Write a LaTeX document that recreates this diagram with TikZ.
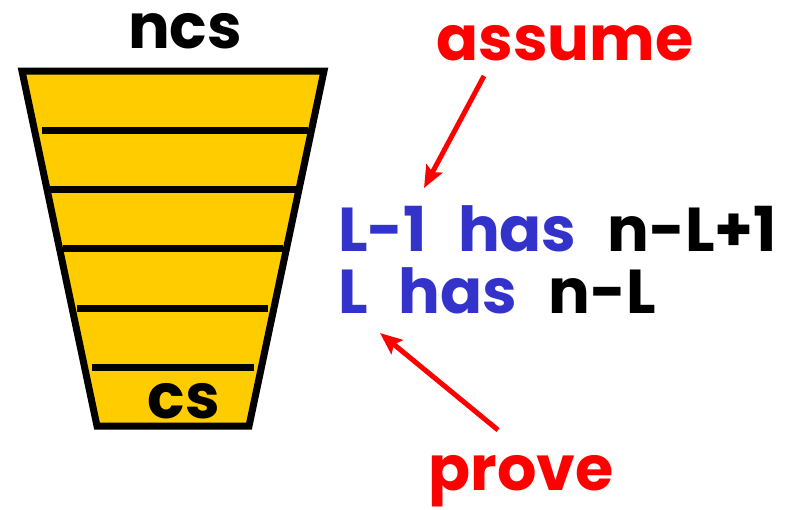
\documentclass[tikz,border=0pt]{standalone}
\usepackage{fontspec}
\setmainfont{Poppins}
\usetikzlibrary{arrows.meta}
\definecolor{cupgold}{HTML}{FFCC00}
\definecolor{hasblue}{HTML}{3333CC}
\definecolor{notered}{HTML}{FF0000}
\newcommand\wordgap{\spaceskip=31pt\relax}
\tikzset{
  bigtext/.style={inner sep=0pt,font=\fontsize{62}{62}\selectfont\bfseries},
  statement/.style={bigtext,anchor=base west},
  level/.style={line width=7pt},
  pointer/.style={draw=notered,line width=5pt,-{Stealth[length=22pt,width=18pt,inset=4pt]}},
}

\begin{document}
\begin{tikzpicture}[x=1pt,y=-1pt]
\useasboundingbox (0,0) rectangle (794,509);
% cup
\draw[fill=cupgold,line width=7pt] (22,71) -- (324,71) -- (249,426) -- (97,426) -- cycle;
\draw[level] (42,130) -- (308,130);
\draw[level] (49,189) -- (297,189);
\draw[level] (63,248) -- (283,248);
\draw[level] (77,308) -- (268,308);
\draw[level] (92,367) -- (254,367);
\node[bigtext,anchor=base] (ncs) at (185,48) {ncs};
\node[bigtext,anchor=base] (cs) at (184,418) {cs};
% statements
\node[statement] (prevlevel) at (338,251) {\wordgap\textcolor{hasblue}{L-1 has} n-L+1};
\node[statement] (thislevel) at (338,313) {\wordgap\textcolor{hasblue}{L has} n-L};
% labels
\node[bigtext,anchor=base,text=notered] (assume) at (565,60) {assume};
\node[bigtext,anchor=base,text=notered] (prove) at (521,490) {prove};
\coordinate (assumefrom) at (484,76);
\coordinate (assumeto) at (424,188);
\coordinate (provefrom) at (498,430);
\coordinate (proveto) at (380,333);
\draw[pointer] (assumefrom) -- (assumeto);
\draw[pointer] (provefrom) -- (proveto);
\end{tikzpicture}
\end{document}
